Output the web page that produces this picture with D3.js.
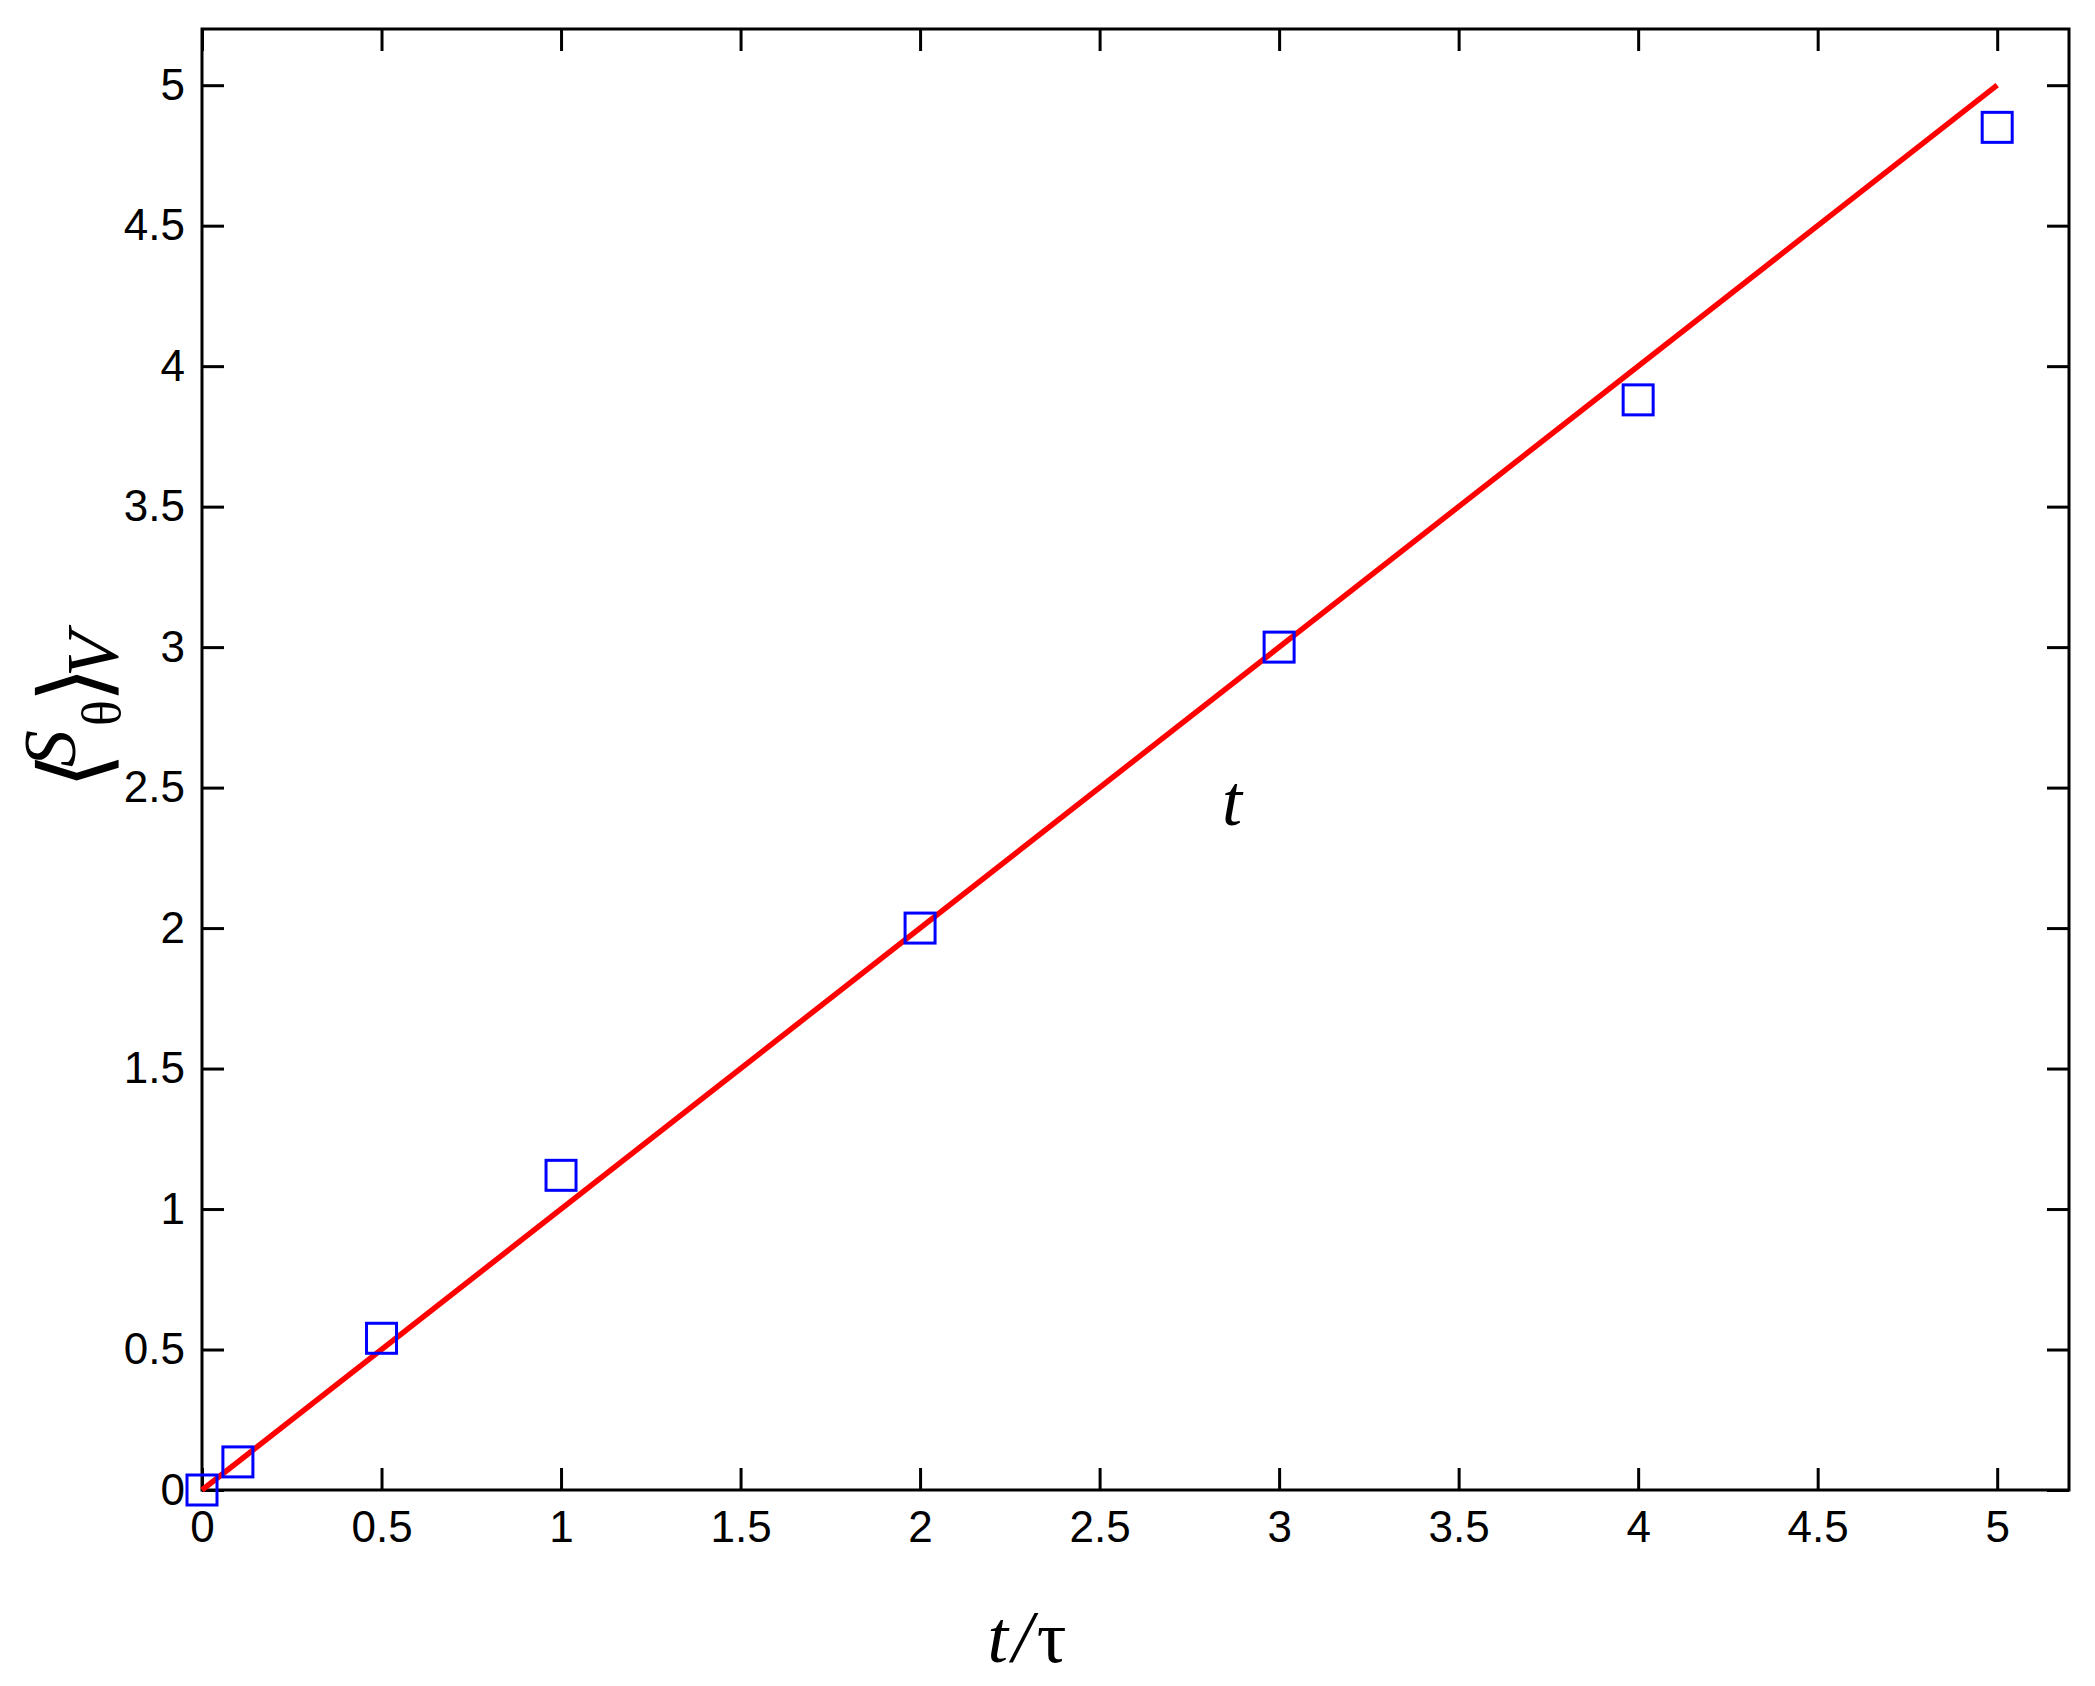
<!DOCTYPE html>
<html>
<head>
<meta charset="utf-8">
<script src="https://cdn.jsdelivr.net/npm/d3@7"></script>
<style>
  body { margin: 0; background: #fff; }
  .tick text { font-family: "Liberation Sans", Arial, sans-serif; font-size: 44px; fill: #000; }
</style>
</head>
<body>
<svg class="chart"></svg>
<script>
// simulated points (squares)
let tauX = [0, 0.1, 0.5, 1, 2, 3, 4, 5];
let sThetaY = [0, 0.1, 0.54, 1.12, 2.0, 3.0, 3.88, 4.85];
// theory line <S>/V = t/tau
let lineX = [0, 5];
let lineY = [0, 5];
let tickVals = [0, 0.5, 1, 1.5, 2, 2.5, 3, 3.5, 4, 4.5, 5];

let width = 2095;
let height = 1686;
let padL = 202, padR = 2069, padT = 29, padB = 1490;

let svg = d3.select(".chart")
  .attr("width", width)
  .attr("height", height);

let x = d3.scaleLinear().domain([0, 5.2]).range([padL, padR]);
let y = d3.scaleLinear().domain([0, 5.2]).range([padB, padT]);

function styleAxis(g) {
  g.select(".domain").remove();
  g.selectAll(".tick line").attr("stroke", "#000").attr("stroke-width", 3);
}

svg.append("g")
  .attr("transform", "translate(0," + padB + ")")
  .call(d3.axisBottom(x).tickValues(tickVals).tickSizeInner(-22).tickSizeOuter(0)
    .tickPadding(21).tickFormat(function(d) { return d; }))
  .call(styleAxis);

svg.append("g")
  .attr("transform", "translate(0," + padT + ")")
  .call(d3.axisTop(x).tickValues(tickVals).tickSizeInner(-22).tickSizeOuter(0).tickFormat(""))
  .call(styleAxis);

svg.append("g")
  .attr("transform", "translate(" + padL + ",0)")
  .call(d3.axisLeft(y).tickValues(tickVals).tickSizeInner(-22).tickSizeOuter(0)
    .tickPadding(17).tickFormat(function(d) { return d; }))
  .call(styleAxis);

svg.append("g")
  .attr("transform", "translate(" + padR + ",0)")
  .call(d3.axisRight(y).tickValues(tickVals).tickSizeInner(-22).tickSizeOuter(0).tickFormat(""))
  .call(styleAxis);

// frame
svg.append("rect")
  .attr("x", padL).attr("y", padT)
  .attr("width", padR - padL).attr("height", padB - padT)
  .attr("fill", "none").attr("stroke", "#000").attr("stroke-width", 3);

svg.append("path")
  .datum(d3.zip(lineX, lineY))
  .attr("fill", "none")
  .attr("stroke", "#ff0000")
  .attr("stroke-width", 5.5)
  .attr("d", d3.line().x(function(d) { return x(d[0]); }).y(function(d) { return y(d[1]); }));

let sq = 30;
svg.selectAll("rect.pt")
  .data(d3.zip(tauX, sThetaY))
  .enter()
  .append("rect")
  .attr("class", "pt")
  .attr("x", function(d) { return x(d[0]) - sq / 2; })
  .attr("y", function(d) { return y(d[1]) - sq / 2; })
  .attr("width", sq)
  .attr("height", sq)
  .attr("fill", "none")
  .attr("stroke", "#0000ff")
  .attr("stroke-width", 3);

// axis titles
let serif = "'Liberation Serif', 'Times New Roman', serif";

let xt = svg.append("text")
  .attr("x", 1027).attr("y", 1662)
  .attr("text-anchor", "middle")
  .style("font-family", serif).style("font-size", "74px");
xt.append("tspan").style("font-style", "italic").text("t");
xt.append("tspan").style("font-style", "italic").attr("dx", 4).text("/");
xt.append("tspan").attr("dx", 4).text("τ");

// y title, built piece by piece in a rotated group
let yg = svg.append("g")
  .attr("transform", "translate(118,705) rotate(-90)")
  .style("font-family", serif);
yg.append("text").attr("x", -84).attr("y", -12)
  .style("font-family", "'DejaVu Sans', sans-serif").style("font-size", "94px")
  .text("⟨");
yg.append("text").attr("x", -62).attr("y", -43)
  .style("font-style", "italic").style("font-size", "74px")
  .text("S");
yg.append("text").attr("x", -21).attr("y", 2)
  .style("font-size", "54px")
  .text("θ");
yg.append("text").attr("x", 2).attr("y", -12)
  .style("font-family", "'DejaVu Sans', sans-serif").style("font-size", "94px")
  .text("⟩");
yg.append("text").attr("x", 28).attr("y", 0)
  .style("font-style", "italic").style("font-size", "74px")
  .text("V");

svg.append("text")
  .attr("x", 1222).attr("y", 825)
  .style("font-family", serif).style("font-style", "italic").style("font-size", "72px")
  .text("t");
</script>
</body>
</html>
